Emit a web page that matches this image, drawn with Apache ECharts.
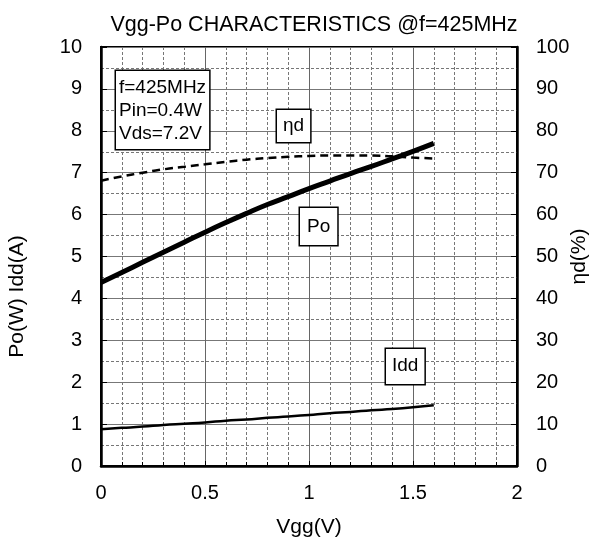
<!DOCTYPE html>
<html><head><meta charset="utf-8">
<script src="https://cdn.jsdelivr.net/npm/echarts@6/dist/echarts.min.js"></script>
<style>html,body{margin:0;padding:0;background:#fff}#c{width:601px;height:544px}</style>
</head><body><div id="c"></div>
<script>
var vgg = [0,0.1,0.2,0.3,0.4,0.5,0.6,0.7,0.8,0.9,1.0,1.1,1.2,1.3,1.4,1.5,1.6];
var po  = [4.38,4.62,4.86,5.10,5.34,5.58,5.81,6.03,6.24,6.43,6.62,6.80,6.98,7.15,7.33,7.51,7.70];
var eta = [68.1,69.1,70.0,70.8,71.4,72.0,72.6,73.1,73.5,73.8,74.0,74.1,74.1,74.1,73.9,73.6,73.4];
var idd = [0.88,0.91,0.94,0.98,1.01,1.04,1.08,1.11,1.15,1.18,1.22,1.26,1.29,1.33,1.36,1.40,1.45];
var xTicks = [0,0.5,1,1.5,2];
var title = 'Vgg-Po CHARACTERISTICS @f=425MHz';
var condText = 'f=425MHz\nPin=0.4W\nVds=7.2V';

function pairs(ys){return vgg.map(function(x,i){return [x,ys[i]];});}
var FONT = '"Liberation Sans", Arial, sans-serif';
var FT = 21.5, FN = 21, FL = 20, FB = 19;
var chart = echarts.init(document.getElementById('c'), null, {renderer:'canvas'});
var opt = {
  animation:false,
  textStyle:{fontFamily:FONT},
  title:{text:title,left:309,textAlign:'center',top:9,textStyle:{fontFamily:FONT,fontSize:FT,fontWeight:'normal',color:'#000'}},
  grid:{left:101,right:84,top:47,bottom:78,outerBoundsMode:'none',containLabel:false,show:true,borderColor:'#000',borderWidth:2,backgroundColor:'transparent'},
  xAxis:{type:'value',min:0,max:2,interval:0.5,
    name:'Vgg(V)',nameLocation:'middle',nameGap:51,nameMoveOverlap:false,nameTextStyle:{fontSize:FN,color:'#000',fontFamily:FONT},
    axisLine:{lineStyle:{color:'#000',width:2.5}},
    axisTick:{inside:true,length:5,lineStyle:{color:'#000'}},
    minorTick:{show:true,splitNumber:5,length:4,lineStyle:{color:'#000'}},
    axisLabel:{fontSize:FL,color:'#000',margin:17,fontFamily:FONT,formatter:function(v){return xTicks.indexOf(v)>=0?String(v):'';}},
    splitLine:{show:true,lineStyle:{color:'#666',width:1}},
    minorSplitLine:{show:true,lineStyle:{color:'#777',type:[3,2],width:1}}
  },
  yAxis:[{type:'value',min:0,max:10,interval:1,
    name:'Po(W) Idd(A)',nameLocation:'middle',nameGap:73,nameMoveOverlap:false,nameRotate:90,nameTextStyle:{fontSize:FN,color:'#000',fontFamily:FONT,padding:[0,0,0,-80]},
    axisLine:{show:true,lineStyle:{color:'#000',width:2.5}},
    axisTick:{show:true,inside:true,length:6,lineStyle:{color:'#000'}},
    axisLabel:{fontSize:FL,color:'#000',margin:19,fontFamily:FONT},
    splitLine:{show:true,lineStyle:{color:'#777',width:1}},
    minorTick:{show:false,splitNumber:2},
    minorSplitLine:{show:true,lineStyle:{color:'#777',type:[3,2],width:1}}
  },{type:'value',min:0,max:100,interval:10,position:'right',
    name:'ηd(%)',nameLocation:'middle',nameGap:52,nameMoveOverlap:false,nameRotate:90,nameTextStyle:{fontSize:FN,color:'#000',fontFamily:FONT},
    axisLine:{show:true,lineStyle:{color:'#000',width:2.5}},
    axisTick:{show:true,inside:true,length:6,lineStyle:{color:'#000'}},
    axisLabel:{fontSize:FL,color:'#000',margin:19,fontFamily:FONT},
    splitLine:{show:false}
  }],
  series:[
    {type:'line',name:'Po',data:pairs(po),yAxisIndex:0,smooth:true,showSymbol:false,lineStyle:{color:'#000',width:5}},
    {type:'line',name:'ηd',data:pairs(eta),yAxisIndex:1,smooth:true,showSymbol:false,lineStyle:{color:'#000',width:2.5,type:[8,5]}},
    {type:'line',name:'Idd',data:pairs(idd),yAxisIndex:0,smooth:true,showSymbol:false,lineStyle:{color:'#000',width:2.5}}
  ]
};
chart.setOption(opt);
function box(txt,x,y,lh,pad){
  return {type:'text',x:x,y:y,z:100,style:{text:txt,font:FB+'px '+FONT,fill:'#000',lineHeight:lh,
    backgroundColor:'#fff',borderColor:'#000',borderWidth:1.5,padding:pad}};
}
chart.setOption({graphic:[
  box(condText,116,71,23,[5,3,4,3]),
  box('ηd',277,110,24,[4,6,4,6]),
  box('Po',300,208,24,[7,7,6,7]),
  box('Idd',386,349,24,[5,6,6,6])
]});
</script></body></html>
